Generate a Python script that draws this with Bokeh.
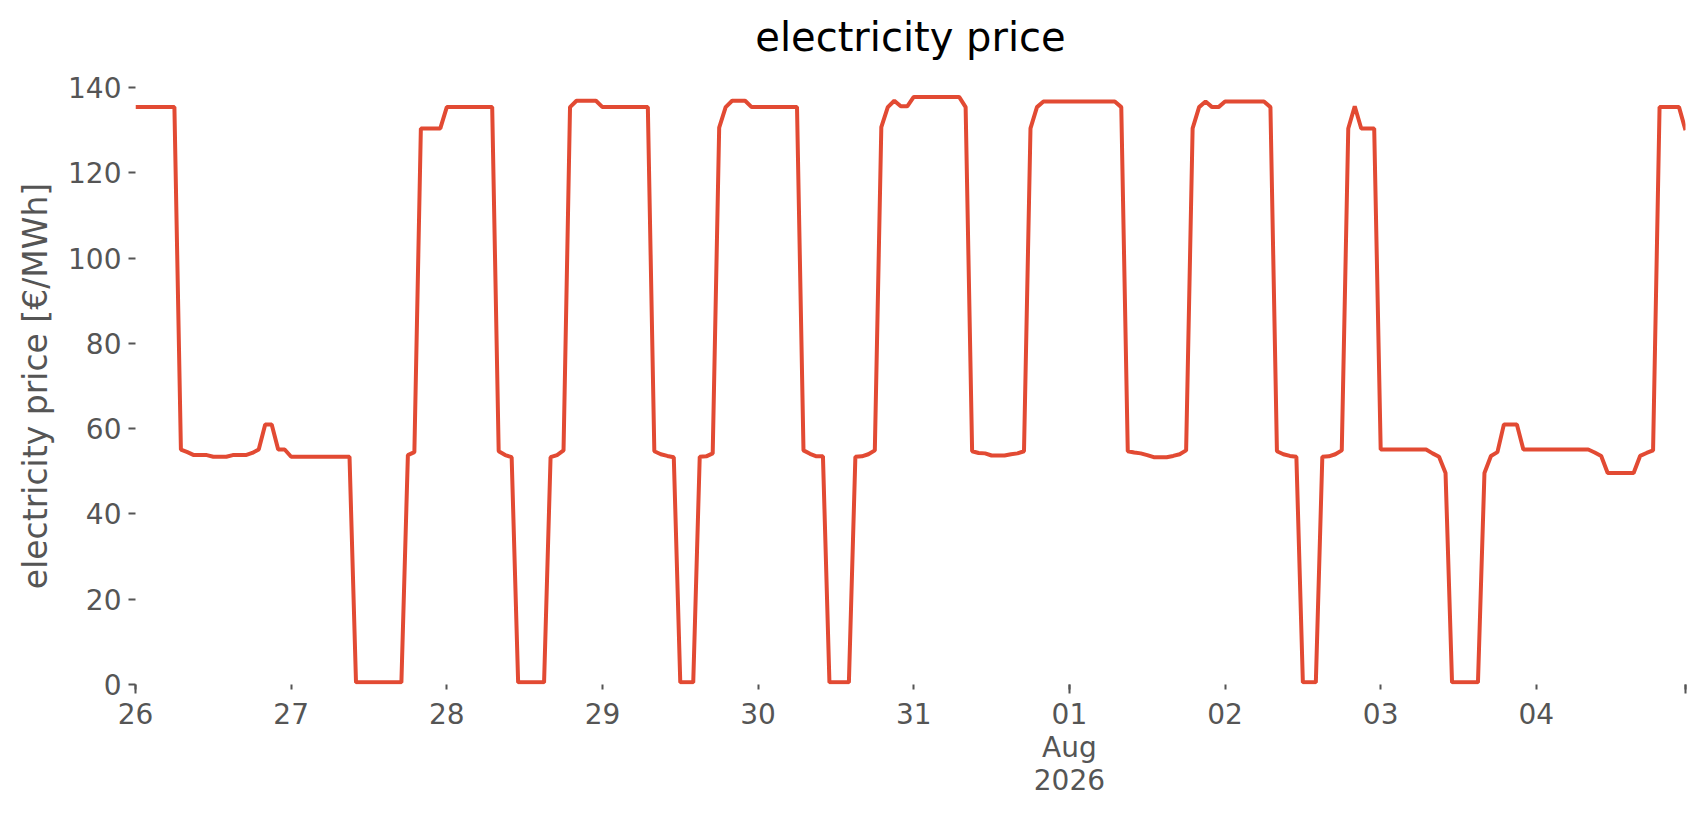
import pandas as pd
from bokeh.plotting import figure
from bokeh.models import FixedTicker, Range1d, ColumnDataSource, DatetimeAxis
from bokeh.embed import file_html
from bokeh.resources import INLINE

# hourly electricity price [EUR/MWh], one list per day
jul26 = [135.4, 135.4, 135.4, 135.4, 135.4, 135.4, 135.4, 55.1, 54.5, 53.8, 53.8, 53.8,
         53.4, 53.4, 53.4, 53.8, 53.8, 53.8, 54.3, 55.1, 61.0, 61.0, 55.1, 55.1]
jul27 = [53.4, 53.4, 53.4, 53.4, 53.4, 53.4, 53.4, 53.4, 53.4, 53.4, 0.5, 0.5,
         0.5, 0.5, 0.5, 0.5, 0.5, 0.5, 53.8, 54.5, 130.4, 130.4, 130.4, 130.4]
jul28 = [135.4, 135.4, 135.4, 135.4, 135.4, 135.4, 135.4, 135.4, 54.7, 53.8, 53.3, 0.5,
         0.5, 0.5, 0.5, 0.5, 53.3, 53.8, 54.9, 135.4, 136.9, 136.9, 136.9, 136.9]
jul29 = [135.4, 135.4, 135.4, 135.4, 135.4, 135.4, 135.4, 135.4, 54.7, 54.0, 53.6, 53.3,
         0.5, 0.5, 0.5, 53.4, 53.5, 54.2, 130.6, 135.4, 136.9, 136.9, 136.9, 135.4]
jul30 = [135.4, 135.4, 135.4, 135.4, 135.4, 135.4, 135.4, 54.9, 54.1, 53.5, 53.5, 0.5,
         0.5, 0.5, 0.5, 53.4, 53.5, 54.0, 54.9, 130.7, 135.4, 136.9, 135.6, 135.6]
jul31 = [137.8, 137.8, 137.8, 137.8, 137.8, 137.8, 137.8, 137.8, 135.4, 54.7, 54.3, 54.2,
         53.7, 53.7, 53.7, 54.0, 54.2, 54.7, 130.4, 135.4, 136.7, 136.7, 136.7, 136.7]
aug01 = [136.7, 136.7, 136.7, 136.7, 136.7, 136.7, 136.7, 136.7, 135.4, 54.7, 54.4, 54.2,
         53.8, 53.3, 53.3, 53.3, 53.6, 54.0, 54.9, 130.4, 135.4, 136.7, 135.4, 135.4]
aug02 = [136.7, 136.7, 136.7, 136.7, 136.7, 136.7, 136.7, 135.4, 54.7, 54.0, 53.6, 53.4,
         0.5, 0.5, 0.5, 53.4, 53.5, 54.0, 54.9, 130.4, 135.6, 130.4, 130.4, 130.4]
aug03 = [55.1, 55.1, 55.1, 55.1, 55.1, 55.1, 55.1, 55.1, 54.2, 53.4, 49.6, 0.5,
         0.5, 0.5, 0.5, 0.5, 49.6, 53.6, 54.5, 61.0, 61.0, 61.0, 55.1, 55.1]
aug04 = [55.1, 55.1, 55.1, 55.1, 55.1, 55.1, 55.1, 55.1, 55.1, 54.4, 53.6, 49.6,
         49.6, 49.6, 49.6, 49.6, 53.6, 54.3, 54.9, 135.4, 135.4, 135.4, 135.4, 130.0]

prices = jul26 + jul27 + jul28 + jul29 + jul30 + jul31 + aug01 + aug02 + aug03 + aug04
start = "2026-07-26 00:00"

title_text = "electricity price"
y_label = "electricity price [€/MWh]"
tick_day_labels = ["26", "27", "28", "29", "30", "31", "01\nAug\n2026", "02", "03", "04"]
y_ticks = [0, 20, 40, 60, 80, 100, 120, 140]

times = pd.date_range(start, periods=len(prices), freq="h")
epoch = pd.Timestamp("1970-01-01")


def ms(t):
    return float((t - epoch) // pd.Timedelta("1ms"))


source = ColumnDataSource(data=dict(time=times, price=prices))

day_ticks = [ms(t) for t in pd.date_range(start, periods=len(tick_day_labels), freq="D")]
end_tick = ms(times[-1])
major = day_ticks + [end_tick]
long_ticks = [day_ticks[0], day_ticks[6], end_tick]
overrides = {t: lab for t, lab in zip(day_ticks, tick_day_labels)}
overrides[end_tick] = ""

W, H = 1690, 799
BL, BR, BT, BB = 135, 5, 87, 104

p = figure(width=W, height=H, x_axis_type="datetime",
           output_backend="svg", toolbar_location=None,
           x_range=Range1d(ms(times[0]), end_tick), y_range=Range1d(0, 140),
           min_border_left=BL, min_border_right=BR, min_border_top=BT, min_border_bottom=BB)

p.line("time", "price", source=source, line_color="#E24A33", line_width=4)

p.background_fill_color = "white"
p.border_fill_color = "white"
p.outline_line_color = None
p.grid.visible = False
p.title.visible = False

xa = p.below[0]
ya = p.left[0]

# chart title, drawn as the label of a bare axis above the frame
title_axis = DatetimeAxis(ticker=FixedTicker(ticks=[]), axis_label=title_text,
                          axis_line_color=None, major_tick_line_color=None,
                          minor_tick_line_color=None, major_tick_out=0, major_tick_in=0,
                          minor_tick_out=0, minor_tick_in=0, major_label_standoff=0,
                          axis_label_standoff=28, axis_label_text_font="DejaVu Sans",
                          axis_label_text_font_size="40px", axis_label_text_font_style="normal",
                          axis_label_text_color="black")
p.add_layout(title_axis, "above")

for ax in (xa, ya):
    ax.axis_line_color = None
    ax.major_tick_line_color = "#555555"
    ax.major_tick_line_width = 2
    ax.major_tick_in = 0
    ax.major_label_text_color = "#555555"
    ax.major_label_text_font = "DejaVu Sans"
    ax.major_label_text_font_size = "28px"

xa.ticker = FixedTicker(ticks=major, minor_ticks=long_ticks)
xa.major_label_overrides = overrides
xa.major_tick_out = 5
xa.minor_tick_out = 9
xa.minor_tick_in = 0
xa.minor_tick_line_color = "#555555"
xa.minor_tick_line_width = 2
xa.major_label_standoff = 4
xa.major_label_text_line_height = 1.0

ya.ticker = FixedTicker(ticks=y_ticks)
ya.major_tick_out = 7
ya.minor_tick_line_color = None
ya.major_label_standoff = 7
ya.axis_label = y_label
ya.axis_label_text_font = "DejaVu Sans"
ya.axis_label_text_font_size = "33px"
ya.axis_label_text_font_style = "normal"
ya.axis_label_text_color = "#555555"
ya.axis_label_standoff = 10

open("out.html", "w").write(file_html(p, INLINE))
